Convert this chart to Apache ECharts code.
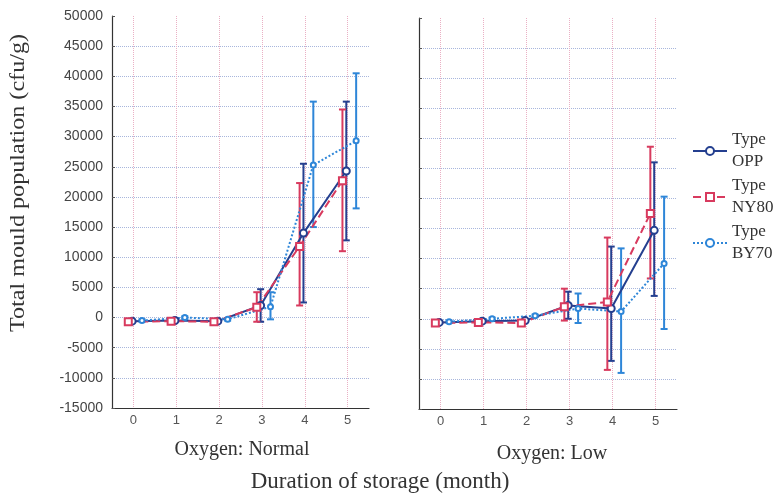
<!DOCTYPE html>
<html>
<head>
<meta charset="utf-8">
<script src="https://cdn.jsdelivr.net/npm/echarts@6/dist/echarts.min.js"></script>
<style>
  html, body { margin: 0; padding: 0; background: #fff; }
  #chart { width: 775px; height: 497px; }
</style>
</head>
<body>
<div id="chart"></div>
<script>
// months on the x axis
const months = [0, 1, 2, 3, 4, 5];
const panelNames = ['Oxygen: Normal', 'Oxygen: Low'];
const typeNames = ['Type OPP', 'Type NY80', 'Type BY70'];

// Oxygen: Normal (mean, lower and upper end of error bar)
const oppNormal = [-600, -500, -600, 2000, 14000, 24300];
const oppNormalLow = [-800, -700, -800, -700, 2500, 12800];
const oppNormalHigh = [-400, -300, -400, 4700, 25500, 35800];
const ny80Normal = [-700, -600, -700, 1700, 11800, 22700];
const ny80NormalLow = [-900, -800, -900, -700, 2000, 11000];
const ny80NormalHigh = [-500, -400, -500, 4200, 22300, 34500];
const by70Normal = [-500, 0, -300, 1800, 25300, 29300];
const by70NormalLow = [-700, -200, -500, -300, 15000, 18100];
const by70NormalHigh = [-300, 200, -100, 4200, 35800, 40500];

// Oxygen: Low
const oppLow = [-600, -400, -300, 2200, 1700, 14700];
const oppLowLow = [-800, -600, -500, 0, -7000, 3800];
const oppLowHigh = [-400, -200, -100, 4500, 12000, 26000];
const ny80Low = [-700, -600, -700, 2000, 2800, 17500];
const ny80LowLow = [-900, -800, -900, -300, -8500, 6700];
const ny80LowHigh = [-500, -400, -500, 5000, 13500, 28600];
const by70Low = [-500, 0, 500, 1700, 1200, 9200];
const by70LowLow = [-700, -200, 300, -700, -9000, -1700];
const by70LowHigh = [-300, 200, 700, 4200, 11700, 20300];

const colors = ['#243f8f', '#d83a5e', '#2e86d8'];
const shift = [-0.03, -0.12, 0.2];   // small dodge so bars don't overlap
const lineTypes = ['solid', 'dashed', 'dotted'];
const symbols = ['emptyCircle', 'emptyRect', 'emptyCircle'];
const symbolSizes = [7, 7, 5];

const panels = [
  [[oppNormal, oppNormalLow, oppNormalHigh], [ny80Normal, ny80NormalLow, ny80NormalHigh], [by70Normal, by70NormalLow, by70NormalHigh]],
  [[oppLow, oppLowLow, oppLowHigh], [ny80Low, ny80LowLow, ny80LowHigh], [by70Low, by70LowLow, by70LowHigh]]
];

const myChart = echarts.init(document.getElementById('chart'));

const serif = 'Liberation Serif';
const sans = 'Liberation Sans';

const grids = [
  { left: 112, top: 16, width: 257, bottom: 89 },
  { left: 419, top: 18, width: 258, bottom: 88 }
];

const xAxes = grids.map((g, i) => ({
  type: 'value',
  gridIndex: i,
  min: -0.5,
  max: 5.5,
  interval: 0.5,
  axisLine: { onZero: false, lineStyle: { color: '#333', width: 1.2 } },
  axisTick: { show: false },
  axisLabel: {
    color: '#555',
    fontFamily: sans,
    fontSize: 13,
    margin: 6,
    formatter: v => (Math.abs(v - Math.round(v)) < 1e-6 ? String(Math.round(v)) : '')
  },
  splitLine: {
    show: true,
    lineStyle: { color: ['rgba(0,0,0,0)', '#eab0c4'], type: 'dotted', width: 1 }
  }
}));

const yAxes = grids.map((g, i) => ({
  type: 'value',
  gridIndex: i,
  min: -15000,
  max: 50000,
  interval: 5000,
  axisLine: { show: true, onZero: false, lineStyle: { color: '#333', width: 1.2 } },
  axisTick: { show: true, inside: true, length: 3, lineStyle: { color: '#555' } },
  axisLabel: {
    show: i === 0,
    color: '#444',
    fontFamily: sans,
    fontSize: 14,
    margin: 9,
    formatter: v => String(v)
  },
  splitLine: {
    show: true,
    showMaxLine: false,
    lineStyle: { color: '#a8b6dc', type: 'dotted', width: 1 }
  }
}));

const series = [];
panels.forEach((panel, p) => {
  panel.forEach((set, s) => {
    const [mean, low, high] = set;
    // error bars
    series.push({
      type: 'custom',
      xAxisIndex: p,
      yAxisIndex: p,
      z: 2,
      silent: true,
      data: months.map((m, k) => [m + shift[s], low[k], high[k]]),
      renderItem: (params, api) => {
        const x = api.value(0);
        const a = api.coord([x, api.value(1)]);
        const b = api.coord([x, api.value(2)]);
        const cap = 3.5;
        const style = { stroke: colors[s], lineWidth: 2 };
        return {
          type: 'group',
          children: [
            { type: 'line', shape: { x1: a[0], y1: a[1], x2: b[0], y2: b[1] }, style },
            { type: 'line', shape: { x1: a[0] - cap, y1: a[1], x2: a[0] + cap, y2: a[1] }, style },
            { type: 'line', shape: { x1: b[0] - cap, y1: b[1], x2: b[0] + cap, y2: b[1] }, style }
          ]
        };
      }
    });
    series.push({
      type: 'line',
      name: typeNames[s],
      xAxisIndex: p,
      yAxisIndex: p,
      z: 3,
      data: months.map((m, k) => [m + shift[s], mean[k]]),
      symbol: symbols[s],
      symbolSize: symbolSizes[s],
      color: colors[s],
      lineStyle: { color: colors[s], width: 2, type: lineTypes[s] },
      itemStyle: { color: colors[s], borderWidth: 1.5 }
    });
  });
});

const option = {
  backgroundColor: '#fff',
  animation: false,
  grid: grids,
  xAxis: xAxes,
  yAxis: yAxes,
  legend: {
    data: typeNames,
    orient: 'vertical',
    left: 692,
    top: 129,
    padding: 0,
    itemWidth: 34,
    itemHeight: 10,
    itemGap: 2,
    formatter: name => name.replace(' ', '\n'),
    textStyle: { fontFamily: serif, fontSize: 17, lineHeight: 22, color: '#333' }
  },
  graphic: [
    {
      type: 'text', x: 18, y: 183, rotation: Math.PI / 2, scaleX: 1.15,
      style: { text: 'Total mould population (cfu/g)', fontFamily: serif, fontSize: 21, fill: '#333', align: 'center', verticalAlign: 'middle' }
    },
    { type: 'text', x: 242, y: 450, style: { text: panelNames[0], fontFamily: serif, fontSize: 20, fill: '#333', align: 'center', verticalAlign: 'middle' } },
    { type: 'text', x: 552, y: 454, style: { text: panelNames[1], fontFamily: serif, fontSize: 20, fill: '#333', align: 'center', verticalAlign: 'middle' } },
    { type: 'text', x: 380, y: 482, style: { text: 'Duration of storage (month)', fontFamily: serif, fontSize: 23, fill: '#333', align: 'center', verticalAlign: 'middle' } }
  ],
  series: series
};

myChart.setOption(option);
</script>
</body>
</html>
